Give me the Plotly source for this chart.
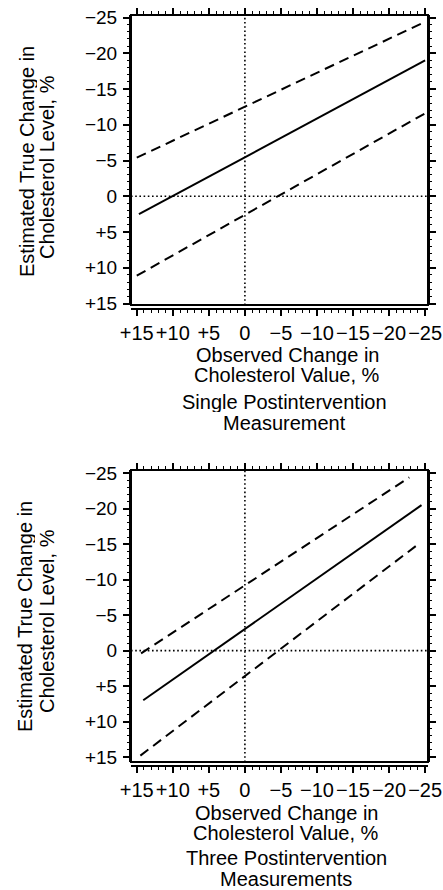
import plotly.graph_objects as go

# ---------------- data ----------------
tick_vals = [15, 10, 5, 0, -5, -10, -15, -20, -25]
x_tick_text = ["+15", "+10", "+5", "0", "\u22125", "\u221210", "\u221215", "\u221220", "\u221225"]
y_tick_vals = [-25, -20, -15, -10, -5, 0, 5, 10, 15]
y_tick_text = ["\u221225", "\u221220", "\u221215", "\u221210", "\u22125", "0", "+5", "+10", "+15"]

# Single postintervention measurement (top panel)
single_est_x = [14.7, -25.0]
single_est_y = [2.5, -19.0]
single_upper_x = [15.0, -25.0]
single_upper_y = [-5.4, -24.4]
single_lower_x = [15.0, -25.0]
single_lower_y = [11.1, -11.6]

# Three postintervention measurements (bottom panel)
three_est_x = [14.1, -24.5]
three_est_y = [7.0, -20.5]
three_upper_x = [14.4, -22.8]
three_upper_y = [0.4, -24.4]
three_lower_x = [14.5, -23.8]
three_lower_y = [14.8, -14.8]

ref_value = [0]

# ---------------- layout helpers ----------------
W, H = 443, 890
FONT = "Liberation Sans, Arial, Helvetica, sans-serif"

def px_x(p):
    return p / W

def px_y(p):
    return 1 - p / H

x_range = [15.8, -25.4]
x_domain = [px_x(131), px_x(428)]

fig = go.Figure()

panels = [
    dict(yr=[15.2, -25.35], ydom=[px_y(305), px_y(15)], xpos=px_y(309),
         series=[(single_est_x, single_est_y, "solid"),
                 (single_upper_x, single_upper_y, "dash"),
                 (single_lower_x, single_lower_y, "dash")]),
    dict(yr=[15.7, -25.45], ydom=[px_y(762), px_y(470)], xpos=px_y(766),
         series=[(three_est_x, three_est_y, "solid"),
                 (three_upper_x, three_upper_y, "dash"),
                 (three_lower_x, three_lower_y, "dash")]),
]

layout = dict(width=W, height=H, margin=dict(l=0, r=0, t=0, b=0, autoexpand=False),
              plot_bgcolor="white", paper_bgcolor="white", showlegend=False)

base_tick = dict(ticks="outside", tickcolor="black", showgrid=False, zeroline=False)

def xid(k):
    return "x" if k == 1 else "x%d" % k

def yid(k):
    return "y" if k == 1 else "y%d" % k

def key(prefix, k):
    return prefix + ("" if k == 1 else str(k))

shapes = []
for i, p in enumerate(panels):
    xm = i + 1                # bottom major (labels)
    xmin_b = 3 + 3 * i        # bottom minor
    xmaj_t = 4 + 3 * i        # top major
    xmin_t = 5 + 3 * i        # top minor
    ym = i + 1
    ymin = 3 + i

    xa, ya = xid(xm), yid(ym)

    for xs, ys, style in p["series"]:
        fig.add_trace(go.Scatter(
            x=xs, y=ys, mode="lines", xaxis=xa, yaxis=ya,
            line=dict(color="black", width=2,
                      dash="solid" if style == "solid" else "10px,6px"),
            showlegend=False, hoverinfo="skip"))
    # empty traces so that every overlay axis is registered and drawn
    for ax_x, ax_y in [(xid(xmin_b), ya), (xid(xmaj_t), ya), (xid(xmin_t), ya), (xa, yid(ymin))]:
        fig.add_trace(go.Scatter(x=[], y=[], mode="lines", xaxis=ax_x, yaxis=ax_y,
                                 showlegend=False, hoverinfo="skip"))

    layout[key("xaxis", xm)] = dict(
        domain=x_domain, range=x_range, anchor="free", position=p["xpos"],
        tickmode="array", tickvals=tick_vals, ticktext=x_tick_text, tickangle=0,
        tickfont=dict(family=FONT, size=20, color="black"),
        showline=True, linewidth=2, linecolor="black", automargin=False,
        ticklen=6, tickwidth=1.5, ticklabelstandoff=0, **base_tick)
    layout[key("xaxis", xmin_b)] = dict(
        domain=x_domain, range=x_range, anchor="free", position=p["xpos"],
        overlaying=xa, tickmode="linear", tick0=0, dtick=1, showticklabels=False,
        ticklen=3, tickwidth=1.2, showline=False, **base_tick)
    layout[key("xaxis", xmaj_t)] = dict(
        domain=x_domain, range=x_range, anchor=ya, side="top", overlaying=xa,
        tickmode="array", tickvals=tick_vals, showticklabels=False,
        ticklen=6, tickwidth=1.5, showline=False, **base_tick)
    layout[key("xaxis", xmin_t)] = dict(
        domain=x_domain, range=x_range, anchor=ya, side="top", overlaying=xa,
        tickmode="linear", tick0=0, dtick=1, showticklabels=False,
        ticklen=3, tickwidth=1.2, showline=False, **base_tick)
    layout[key("yaxis", ym)] = dict(
        domain=p["ydom"], range=p["yr"], anchor=xa,
        tickmode="array", tickvals=y_tick_vals, ticktext=y_tick_text,
        tickfont=dict(family=FONT, size=19, color="black"),
        showline=True, linewidth=2, linecolor="black", mirror="allticks",
        automargin=False, ticklen=6, tickwidth=1.5, ticklabelstandoff=2, **base_tick)
    layout[key("yaxis", ymin)] = dict(
        domain=p["ydom"], range=p["yr"], anchor=xa, overlaying=ya, side="left",
        tickmode="linear", tick0=0, dtick=1, showticklabels=False, mirror="allticks",
        ticklen=3, tickwidth=1.2, showline=False, **base_tick)

    xd = xa + " domain"
    yd = ya + " domain"
    shapes.append(dict(type="line", xref=xa, yref=yd, x0=ref_value[0], x1=ref_value[0],
                       y0=0, y1=1, line=dict(color="black", width=1.6, dash="1.6px,2.6px")))
    shapes.append(dict(type="line", xref=xd, yref=ya, x0=0, x1=1,
                       y0=ref_value[0], y1=ref_value[0],
                       line=dict(color="black", width=1.6, dash="1.6px,2.6px")))
    shapes.append(dict(type="rect", xref=xd, yref=yd, x0=0, x1=1, y0=0, y1=1,
                       line=dict(color="black", width=2)))

fig.update_layout(**layout)
fig.update_layout(shapes=shapes)

ann_font = dict(family=FONT, size=20, color="black")
annotations = []

def ann(text, x, y, angle=0):
    annotations.append(dict(text=text, x=px_x(x), y=px_y(y), xref="paper", yref="paper",
                            showarrow=False, xanchor="center", yanchor="middle",
                            textangle=angle, font=ann_font, height=20, borderpad=0))

# top panel titles
ann("Estimated True Change in", 27, 162, -90)
ann("Cholesterol Level, %", 47, 167, -90)
ann("Observed Change in", 287, 355)
ann("Cholesterol Value, %", 287, 375)
ann("Single Postintervention", 284, 402)
ann("Measurement", 284, 423)

# bottom panel titles
ann("Estimated True Change in", 25, 617, -90)
ann("Cholesterol Level, %", 47, 621, -90)
ann("Observed Change in", 286, 813)
ann("Cholesterol Value, %", 286, 833)
ann("Three Postintervention", 286, 858)
ann("Measurements", 286, 879)

fig.update_layout(annotations=annotations)

fig.write_html("out.html", config={"displayModeBar": False, "responsive": False},
               post_script="document.body.style.margin='0';document.body.style.overflow='hidden';")
